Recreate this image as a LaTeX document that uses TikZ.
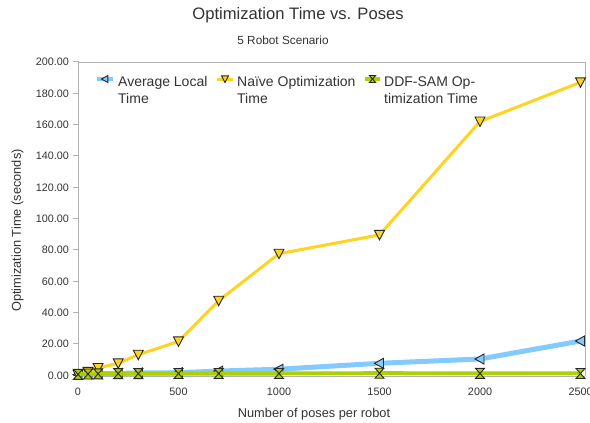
\documentclass[tikz,border=0pt]{standalone}
\usepackage{fontspec}
\setmainfont{Liberation Sans}
\definecolor{cblue}{HTML}{83CAFF}
\definecolor{cyel}{HTML}{FFD320}
\definecolor{cgrn}{HTML}{AECF00}
\definecolor{ctxt}{HTML}{333333}
\definecolor{caxis}{HTML}{B3B3B3}
\newcommand{\mkL}[3][1]{\draw[mk,fill=cblue,shift={(#2,#3)},scale=#1] (-5,0)--(4,-5)--(4,5)--cycle;}
\newcommand{\mkD}[3][1]{\draw[mk,fill=cyel,shift={(#2,#3)},scale=#1] (-5,-4.5)--(5,-4.5)--(0,5)--cycle;}
\newcommand{\mkH}[3][1]{\draw[mk,fill=cgrn,shift={(#2,#3)},scale=#1] (-4.5,-5)--(4.5,-5)--(-4.5,5)--(4.5,5)--cycle;}
\begin{document}
\begin{tikzpicture}[x=1pt,y=-1pt,
  mk/.style={draw=black!85,line width=0.9pt,line join=miter},
  txt/.style={text=ctxt,inner sep=0pt},
  ticklab/.style={txt,font=\fontsize{10.8}{12}\selectfont},
  legtxt/.style={txt,anchor=base west,font=\fontsize{14}{17}\selectfont},
  axline/.style={draw=caxis,line width=1pt},
  bl/.style={draw=cblue,line width=5pt,line join=round},
  yl/.style={draw=cyel,line width=3pt,line join=round},
  gl/.style={draw=cgrn,line width=4pt,line join=round}]
\fill[white] (0,0) rectangle (590,423);
\useasboundingbox (0,0) rectangle (590,423);
% titles
\node[txt,font=\fontsize{16.6}{18}\selectfont] (title) at (298,15.5) {Optimization Time vs. Poses};
\node[txt,font=\fontsize{11.8}{14}\selectfont] (subtitle) at (283,40) {5 Robot Scenario};
% frame and axes
\draw[axline] (78.5,62) -- (585,62) -- (585,376);
\draw[axline] (78.5,62) -- (78.5,376) -- (585,376);
\foreach \v in {0,20,...,200}{
  \pgfmathsetmacro{\yy}{375-1.566*\v}
  \draw[axline] (73,\yy) -- (78.5,\yy);
  \node[ticklab,anchor=base east] (ylab\v) at (69,\yy+4) {\v.00};
}
\foreach \v in {0,500,1000,1500,2000,2500}{
  \pgfmathsetmacro{\xx}{78+0.201*\v}
  \node[ticklab,anchor=base] (xlab\v) at (\xx,395.5) {\v};
}
\node[txt,font=\fontsize{12.8}{14}\selectfont,anchor=base] (xtitle) at (314,417) {Number of poses per robot};
\node[txt,font=\fontsize{12.8}{14}\selectfont,rotate=90] (ytitle) at (17.5,230.5) {Optimization Time (seconds)};
% series 1: average local time
\draw[bl] plot coordinates {(78,374.7) (88,374.2) (98.1,373.7) (118.2,373.4) (138.3,373) (178.5,372.7) (218.7,371.1) (279,369.2) (379.5,363.3) (480,359) (580.5,341)};
\foreach \px/\py in {78/374.7,88/374.2,98.1/373.7,118.2/373.4,138.3/373,178.5/372.7,218.7/371.1,279/369.2,379.5/363.3,480/359,580.5/341}{\mkL{\px}{\py}}
% series 2: naive
\draw[yl] plot coordinates {(78,374.5) (88,371.9) (98.1,368) (118.2,363.3) (138.3,354.7) (178.5,341.4) (218.7,300.7) (279,253.7) (379.5,234.9) (480,121.5) (580.5,82.3)};
\foreach \px/\py in {78/374.5,88/371.9,98.1/368,118.2/363.3,138.3/354.7,178.5/341.4,218.7/300.7,279/253.7,379.5/234.9,480/121.5,580.5/82.3}{\mkD{\px}{\py}}
% series 3: DDF-SAM
\draw[gl] plot coordinates {(78,374.3) (88,374) (98.1,373.8) (118.2,373.6) (138.3,373.6) (178.5,373.5) (218.7,373.5) (279,373.5) (379.5,373.2) (480,373.4) (580.5,373.5)};
\foreach \px/\py in {78/374.3,88/374,98.1/373.8,118.2/373.6,138.3/373.6,178.5/373.5,218.7/373.5,279/373.5,379.5/373.2,480/373.4,580.5/373.5}{\mkH{\px}{\py}}
% legend
\draw[draw=cblue,line width=3.5pt] (97,79) -- (113,79);
\mkL[0.7]{105}{79}
\node[legtxt] (leg1a) at (118,86) {Average Local};
\node[legtxt] (leg1b) at (118,103) {Time};
\draw[draw=cyel,line width=3pt] (217,79) -- (233,79);
\mkD[0.7]{225}{79}
\node[legtxt] (leg2a) at (237,86) {Naïve Optimization};
\node[legtxt] (leg2b) at (237,103) {Time};
\draw[draw=cgrn,line width=3.5pt] (365,79) -- (380,79);
\mkH[0.7]{372.5}{79}
\node[legtxt] (leg3a) at (384,86) {DDF-SAM Op-};
\node[legtxt] (leg3b) at (384,103) {timization Time};
\end{tikzpicture}
\end{document}
